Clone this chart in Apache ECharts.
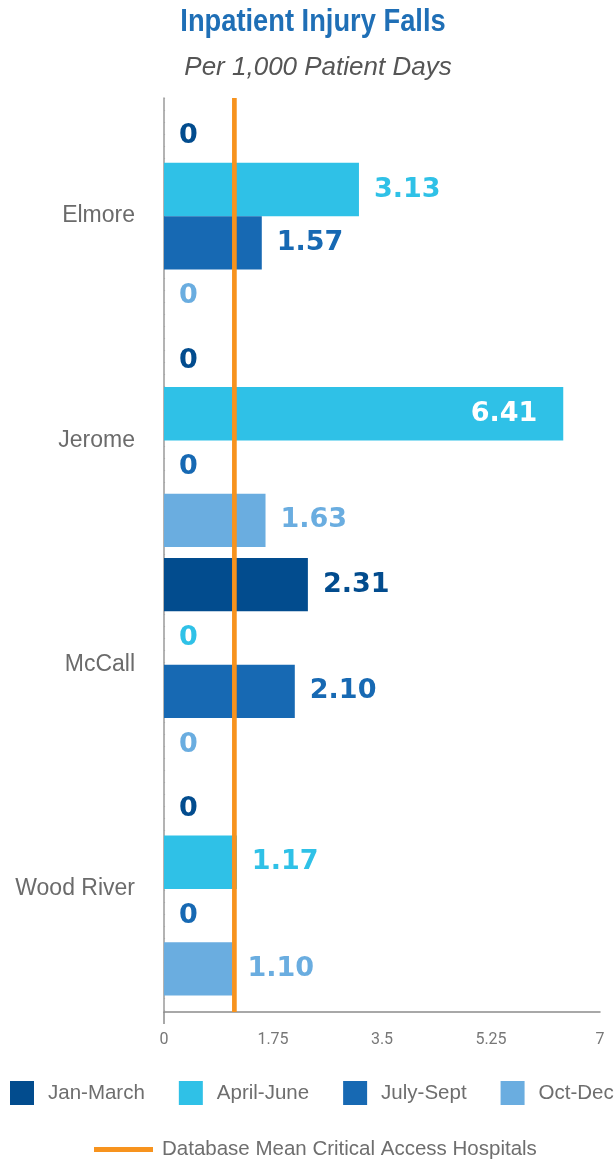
<!DOCTYPE html>
<html lang="en">
  <head>
    <meta charset="utf-8" />
    <title>Inpatient Injury Falls</title>
    <script src="https://cdn.jsdelivr.net/npm/echarts@6/dist/echarts.min.js"></script>
    <style>
      html, body { margin: 0; padding: 0; background: #fff; }
      #chart { width: 615px; height: 1161px; }
    </style>
  </head>
  <body>
    <div id="chart"></div>
    <script>
      // data
      var hospitals = ['Elmore', 'Jerome', 'McCall', 'Wood River']
      var janMarch = [0, 0, 2.31, 0]
      var aprilJune = [3.13, 6.41, 0, 1.17]
      var julySept = [1.57, 0, 2.10, 0]
      var octDec = [0, 1.63, 0, 1.10]
      var dbMean = 1.13
      var xTicks = [0, 1.75, 3.5, 5.25, 7]

      var quarters = [
        { name: 'Jan-March', data: janMarch, color: '#024c8e' },
        { name: 'April-June', data: aprilJune, color: '#2fc1e7' },
        { name: 'July-Sept', data: julySept, color: '#1769b3' },
        { name: 'Oct-Dec', data: octDec, color: '#6aade0' }
      ]

      var labelFont = 'DejaVu Sans, Liberation Sans, sans-serif'
      var textFont = 'Liberation Sans, sans-serif'

      function fmt (v) {
        return v === 0 ? '0' : v.toFixed(2)
      }

      var series = quarters.map(function (q) {
        return {
          name: q.name,
          type: 'bar',
          xAxisIndex: 0,
          yAxisIndex: 0,
          barGap: 0,
          barCategoryGap: '5%',
          itemStyle: { color: q.color },
          label: {
            show: true,
            position: 'right',
            distance: 15,
            color: q.color,
            fontFamily: labelFont,
            fontWeight: 'bold',
            fontSize: 27,
            formatter: function (p) { return fmt(p.value) }
          },
          data: q.data.map(function (v) {
            // the longest bar carries its label inside
            if (v > 6) {
              return { value: v, label: { position: 'insideRight', distance: 26, color: '#fff' } }
            }
            return v
          })
        }
      })

      series.push({
        name: 'Database Mean Critical Access Hospitals',
        type: 'line',
        xAxisIndex: 1,
        yAxisIndex: 1,
        symbol: 'none',
        z: 5,
        color: '#f7931e',
        lineStyle: { color: '#f7931e', width: 4.7 },
        data: [[dbMean, 0], [dbMean, 1]]
      })

      var chart = echarts.init(document.getElementById('chart'))
      chart.setOption({
        animation: false,
        // condensed bold heading, squeezed horizontally
        graphic: [
          {
            type: 'text',
            x: 313,
            y: 22,
            scaleX: 0.88,
            style: {
              text: 'Inpatient Injury Falls',
              font: 'bold 31px "Liberation Sans", sans-serif',
              fill: '#1f6fb6',
              align: 'center',
              verticalAlign: 'middle'
            }
          }
        ],
        title: {
          text: 'Per 1,000 Patient Days',
          left: 313,
          top: 50,
          textAlign: 'center',
          textStyle: { fontFamily: textFont, fontStyle: 'italic', fontWeight: 'normal', fontSize: 26, color: '#555' }
        },
        legend: [
          {
            data: quarters.map(function (q) { return q.name }),
            left: 10,
            top: 1081,
            width: 800,
            padding: 0,
            icon: 'rect',
            itemWidth: 24,
            itemHeight: 24,
            itemGap: 34,
            textStyle: { fontFamily: textFont, fontSize: 20.5, color: '#6e6e6e', padding: [0, 0, 0, 9] }
          },
          {
            data: ['Database Mean Critical Access Hospitals'],
            left: 94,
            top: 1139,
            padding: 0,
            icon: 'rect',
            itemWidth: 59,
            itemHeight: 5,
            textStyle: { fontFamily: textFont, fontSize: 20.5, color: '#6e6e6e', padding: [0, 0, 0, 4] }
          }
        ],
        grid: [
          { left: 164, right: 15, top: 104, bottom: 160 },
          { left: 164, right: 15, top: 98, bottom: 149 }
        ],
        xAxis: [
          { type: 'value', gridIndex: 0, min: 0, max: 7, show: false },
          {
            type: 'value',
            gridIndex: 1,
            min: xTicks[0],
            max: xTicks[xTicks.length - 1],
            interval: 1.75,
            axisLine: { show: true, lineStyle: { color: '#8c8c8c', width: 1.5 } },
            axisTick: { show: true, customValues: [0], length: 12, lineStyle: { color: '#8c8c8c', width: 1.5 } },
            axisLabel: {
              margin: 20,
              fontFamily: 'Roboto, sans-serif',
              fontSize: 16,
              color: '#777',
              formatter: function (v) { return String(v) }
            },
            splitLine: { show: true, lineStyle: { color: '#c8c8c8', type: [1, 11], width: 1.2 } }
          }
        ],
        yAxis: [
          {
            type: 'category',
            gridIndex: 0,
            data: hospitals,
            inverse: true,
            axisLine: { show: false },
            axisTick: { show: false },
            axisLabel: { margin: 29, fontFamily: textFont, fontSize: 23, color: '#6b6b6b' }
          },
          {
            type: 'value',
            gridIndex: 1,
            min: 0,
            max: 1,
            axisLine: { show: true, lineStyle: { color: '#9a9a9a', width: 1.5 } },
            axisTick: { show: false },
            axisLabel: { show: false },
            splitLine: { show: false }
          }
        ],
        series: series
      })
    </script>
  </body>
</html>
